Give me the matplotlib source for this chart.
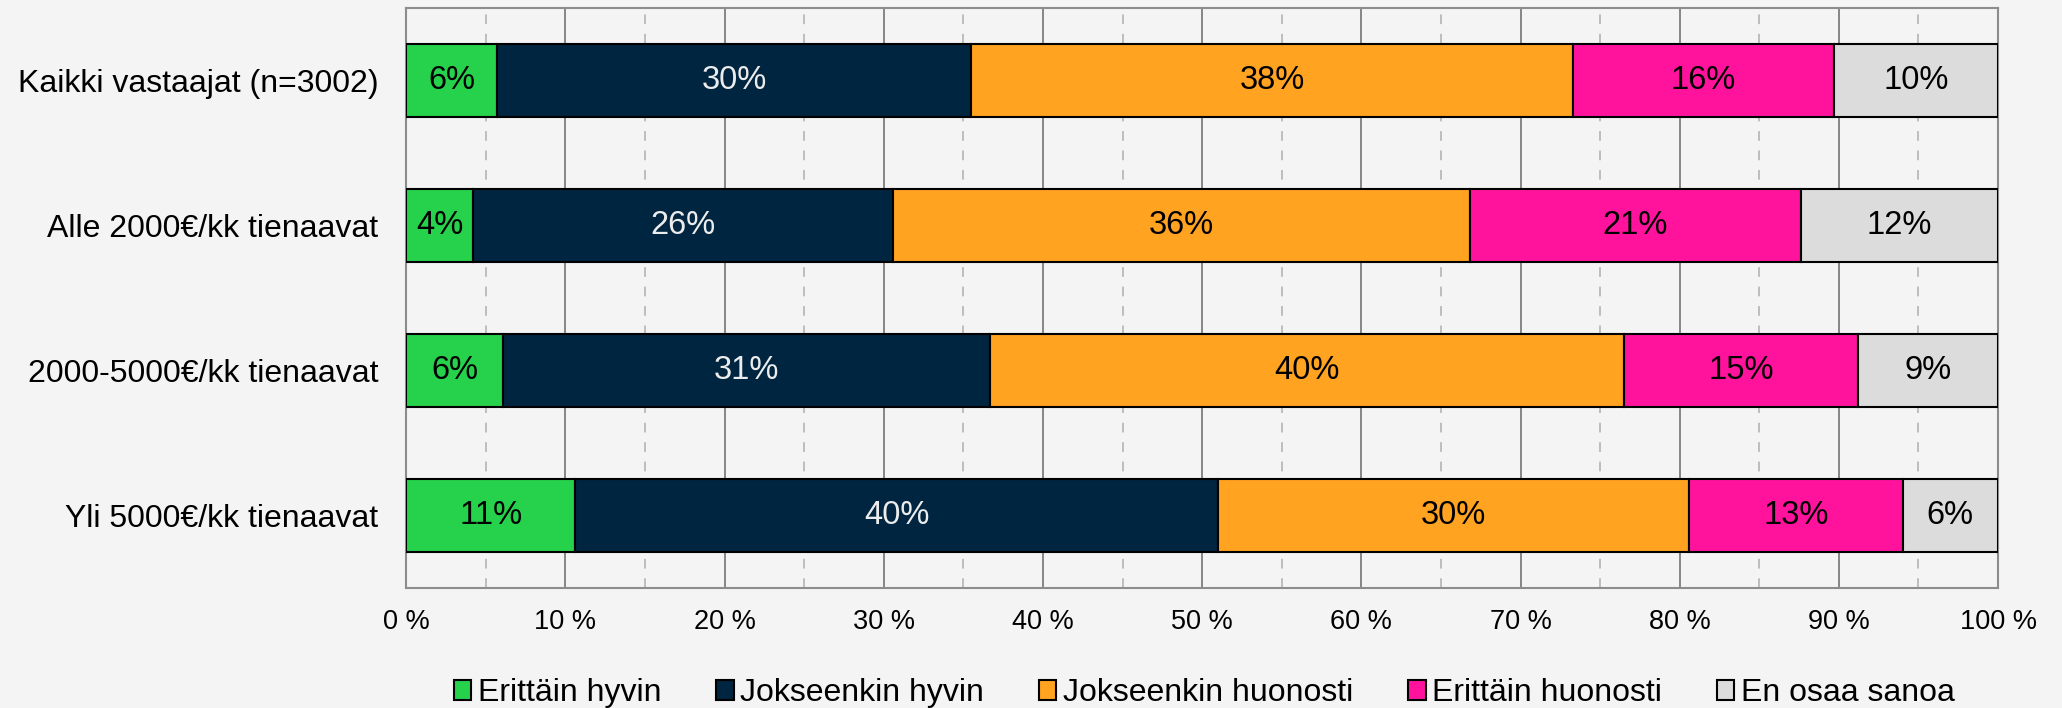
import matplotlib.pyplot as plt
import numpy as np
from matplotlib.ticker import MultipleLocator, FuncFormatter

plt.rcParams['font.family'] = ['Liberation Sans', 'DejaVu Sans']

# ryhmät (ylhäältä alas)
ryhmat = ["Kaikki vastaajat (n=3002)", "Alle 2000€/kk tienaavat",
          "2000-5000€/kk tienaavat", "Yli 5000€/kk tienaavat"]
vastaukset = ["Erittäin hyvin", "Jokseenkin hyvin", "Jokseenkin huonosti",
              "Erittäin huonosti", "En osaa sanoa"]

erittain_hyvin = [5.7, 4.2, 6.1, 10.6]
jokseenkin_hyvin = [29.8, 26.4, 30.6, 40.4]
jokseenkin_huonosti = [37.8, 36.2, 39.8, 29.6]
erittain_huonosti = [16.4, 20.8, 14.7, 13.4]
en_osaa = [10.3, 12.4, 8.8, 6.0]

varit = ["#26d14c", "#002540", "#ffa321", "#ff139c", "#dcdcdc"]
tekstivarit = ["black", "#ececec", "black", "black", "black"]

tausta = "#f4f4f4"
fig = plt.figure(figsize=(20.62, 7.08), dpi=100, facecolor=tausta)
ax = fig.add_axes([0.197, 0.169, 0.772, 0.820], facecolor=tausta)

sarjat = [erittain_hyvin, jokseenkin_hyvin, jokseenkin_huonosti, erittain_huonosti, en_osaa]
y = np.arange(len(ryhmat))
vasen = np.zeros(len(ryhmat))
for nimi, arvot, vari, tv in zip(vastaukset, sarjat, varit, tekstivarit):
    arvot = np.array(arvot)
    ax.barh(y, arvot, 0.5, left=vasen, color=vari, edgecolor="black",
            linewidth=1.5, label=nimi, zorder=3)
    for yi, l, a in zip(y, vasen, arvot):
        ax.text(l + a / 2, yi, f"{a:.0f}%", ha="center", va="center",
                fontsize=23.5, color=tv, zorder=4)
    vasen += arvot

ax.set_xlim(0, 100)
ax.set_ylim(3.5, -0.5)
ax.set_yticks(y)
ax.set_yticklabels(ryhmat, fontsize=23)
ax.xaxis.set_major_locator(MultipleLocator(10))
ax.xaxis.set_minor_locator(MultipleLocator(5))
ax.xaxis.set_major_formatter(FuncFormatter(lambda v, p: f"{v:.0f} %"))
ax.tick_params(axis="x", which="both", length=0, labelsize=19.5, pad=15)
ax.tick_params(axis="y", length=0, pad=20)
ax.grid(axis="x", which="major", color="#858585", linewidth=1.4, zorder=0)
ax.grid(axis="x", which="minor", color="#bdbdbd", linewidth=1.4,
        linestyle=(0, (5, 5)), zorder=0)
for s in ax.spines.values():
    s.set_color("#8c8c8c")
    s.set_linewidth(1.5)

h, l = ax.get_legend_handles_labels()
fig.legend(h, l, loc="lower center", bbox_to_anchor=(0.584, -0.041), ncol=5,
           frameon=False, fontsize=23, handlelength=0.55, handleheight=0.55,
           handletextpad=0.2, columnspacing=1.72)

plt.savefig("out.png", dpi=100, facecolor=tausta)
